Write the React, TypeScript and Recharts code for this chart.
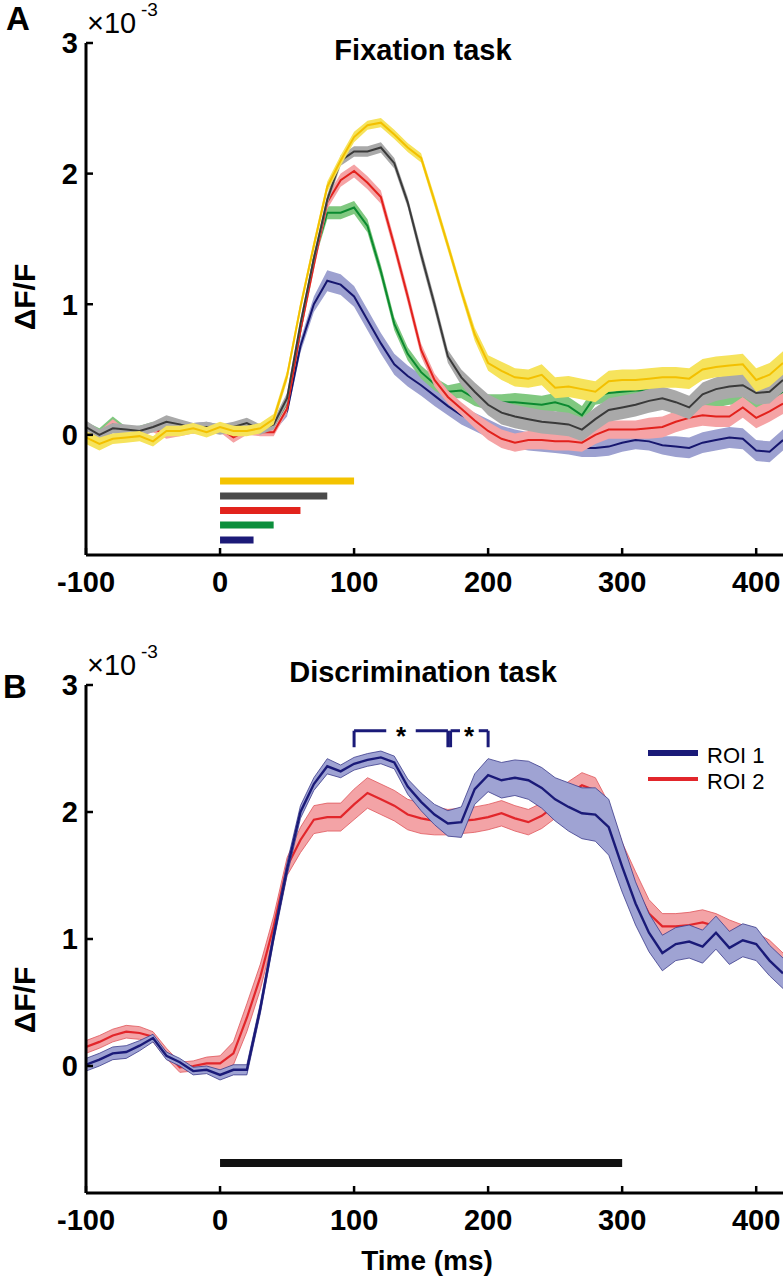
import React from 'react'
import { ComposedChart, Area, Line, XAxis, YAxis, ReferenceLine } from 'recharts'

const FONT = '"Liberation Sans", Arial, Helvetica, sans-serif'

// time axis (ms), shared by both panels
const times = [
  -100, -90, -80, -70, -60, -50, -40, -30, -20, -10, 0, 10, 20, 30,
  40, 50, 60, 70, 80, 90, 100, 110, 120, 130, 140, 150,
  160, 170, 180, 190, 200, 210, 220, 230, 240, 250, 260, 270,
  280, 290, 300, 310, 320, 330, 340, 350, 360, 370, 380, 390, 400, 410, 420
]
const xTicks = [-100, 0, 100, 200, 300, 400]
const yTicks = [0, 1, 2, 3]

// ---- Panel A: fixation task (dF/F x 1e-3), mean and sem per stimulus duration
const fixYellow = [
  -0.02, -0.07, -0.03, -0.02, -0.01, -0.05, 0.03, 0.03, 0.05, 0.02, 0.06, 0.03, 0.03, 0.05,
  0.12, 0.45, 0.98, 1.45, 1.9, 2.1, 2.28, 2.37, 2.39, 2.3, 2.2, 2.12,
  1.79, 1.45, 1.1, 0.77, 0.55, 0.49, 0.44, 0.43, 0.46, 0.36, 0.37, 0.35,
  0.33, 0.41, 0.42, 0.42, 0.43, 0.44, 0.44, 0.43, 0.5, 0.52, 0.53, 0.54, 0.42, 0.46, 0.55
]
const fixYellowSem = [
  0.05, 0.05, 0.04, 0.04, 0.04, 0.04, 0.04, 0.04, 0.04, 0.04, 0.04, 0.04, 0.04, 0.04,
  0.04, 0.04, 0.04, 0.04, 0.04, 0.04, 0.04, 0.035, 0.035, 0.035, 0.035, 0.035,
  0.04, 0.04, 0.04, 0.05, 0.06, 0.07, 0.07, 0.07, 0.08, 0.08, 0.08, 0.08,
  0.08, 0.08, 0.08, 0.08, 0.08, 0.08, 0.08, 0.08, 0.08, 0.08, 0.08, 0.08, 0.09, 0.09, 0.09
]
const fixGray = [
  0.06, 0.0, 0.05, 0.04, 0.03, 0.06, 0.1, 0.08, 0.05, 0.06, 0.04, 0.06, 0.09, 0.04,
  0.08, 0.28, 0.85, 1.35, 1.8, 2.1, 2.17, 2.17, 2.2, 2.08, 1.78, 1.38,
  1.0, 0.6, 0.44, 0.33, 0.23, 0.17, 0.14, 0.12, 0.1, 0.09, 0.08, 0.04,
  0.12, 0.19, 0.21, 0.23, 0.26, 0.28, 0.25, 0.21, 0.31, 0.35, 0.37, 0.38, 0.32, 0.33, 0.42
]
const fixGraySem = [
  0.05, 0.04, 0.04, 0.04, 0.04, 0.04, 0.05, 0.04, 0.04, 0.04, 0.04, 0.04, 0.04, 0.04,
  0.04, 0.04, 0.04, 0.04, 0.04, 0.04, 0.04, 0.04, 0.04, 0.04, 0.04, 0.05,
  0.05, 0.05, 0.06, 0.07, 0.08, 0.09, 0.09, 0.09, 0.09, 0.09, 0.09, 0.09,
  0.09, 0.09, 0.09, 0.09, 0.09, 0.09, 0.09, 0.09, 0.09, 0.09, 0.09, 0.09, 0.09, 0.09, 0.09
]
const fixRed = [
  0.05, -0.01, 0.08, 0.0, 0.02, 0.05, 0.0, 0.02, 0.04, 0.05, 0.05, -0.02, 0.03, 0.02,
  0.02, 0.2, 0.8, 1.3, 1.78, 1.95, 2.02, 1.93, 1.82, 1.45, 1.06, 0.65,
  0.42, 0.29, 0.2, 0.11, 0.03, -0.03, -0.06, -0.04, -0.04, -0.05, -0.05, -0.06,
  0.0, 0.04, 0.04, 0.04, 0.05, 0.06, 0.1, 0.13, 0.15, 0.14, 0.14, 0.21, 0.13, 0.18, 0.24
]
const fixRedSem = [
  0.04, 0.04, 0.04, 0.04, 0.03, 0.03, 0.03, 0.03, 0.03, 0.03, 0.03, 0.04, 0.03, 0.03,
  0.03, 0.03, 0.04, 0.04, 0.05, 0.05, 0.05, 0.05, 0.05, 0.05, 0.05, 0.05,
  0.05, 0.05, 0.05, 0.06, 0.07, 0.07, 0.07, 0.07, 0.07, 0.07, 0.07, 0.07,
  0.07, 0.07, 0.07, 0.07, 0.08, 0.08, 0.08, 0.08, 0.08, 0.08, 0.08, 0.08, 0.08, 0.08, 0.08
]
const fixGreen = [
  0.06, 0.02, 0.1, 0.03, 0.04, 0.07, 0.05, 0.06, 0.05, 0.06, 0.04, 0.05, 0.07, 0.03,
  0.06, 0.22, 0.8, 1.35, 1.7, 1.7, 1.74, 1.6, 1.25, 0.85, 0.62, 0.48,
  0.39, 0.33, 0.34, 0.28, 0.25, 0.25, 0.25, 0.24, 0.23, 0.25, 0.22, 0.15,
  0.3, 0.32, 0.33, 0.34, 0.34, 0.28, 0.22, 0.2, 0.25, 0.28, 0.3, 0.3, 0.25, 0.27, 0.33
]
const fixGreenSem = [
  0.04, 0.03, 0.04, 0.03, 0.03, 0.03, 0.03, 0.03, 0.03, 0.03, 0.03, 0.03, 0.03, 0.03,
  0.03, 0.03, 0.04, 0.04, 0.05, 0.05, 0.05, 0.05, 0.05, 0.05, 0.05, 0.05,
  0.05, 0.05, 0.06, 0.06, 0.06, 0.06, 0.07, 0.07, 0.07, 0.07, 0.07, 0.07,
  0.07, 0.07, 0.07, 0.07, 0.07, 0.07, 0.07, 0.07, 0.07, 0.07, 0.07, 0.07, 0.07, 0.07, 0.07
]
const fixBlue = [
  0.05, 0.01, 0.07, 0.03, 0.04, 0.05, 0.04, 0.05, 0.06, 0.07, 0.05, 0.05, 0.06, 0.03,
  0.05, 0.18, 0.68, 1.0, 1.18, 1.15, 1.06, 0.88, 0.7, 0.54, 0.45, 0.38,
  0.3, 0.22, 0.15, 0.1, 0.05, 0.0, -0.03, -0.05, -0.06, -0.07, -0.08, -0.1,
  -0.1, -0.09, -0.06, -0.04, -0.05, -0.08, -0.09, -0.1, -0.06, -0.04, -0.02, -0.03, -0.12, -0.13, -0.04
]
const fixBlueSem = [
  0.04, 0.03, 0.03, 0.03, 0.03, 0.03, 0.03, 0.03, 0.03, 0.03, 0.03, 0.03, 0.03, 0.03,
  0.03, 0.04, 0.05, 0.06, 0.08, 0.08, 0.08, 0.08, 0.08, 0.08, 0.08, 0.08,
  0.08, 0.07, 0.07, 0.07, 0.07, 0.07, 0.07, 0.07, 0.07, 0.07, 0.07, 0.07,
  0.07, 0.07, 0.07, 0.07, 0.07, 0.07, 0.08, 0.08, 0.08, 0.08, 0.08, 0.08, 0.08, 0.08, 0.08
]
// stimulus durations (ms) drawn as bars under the traces
const stimDurations = [100, 80, 60, 40, 25]
const stimLevels = [-0.354, -0.469, -0.58, -0.69, -0.805]
const stimColors = ['#f4c300', '#4a4a4a', '#e2231c', '#0c8f3c', '#1c1a78']

// ---- Panel B: discrimination task
const disRoi1 = [
  0.01, 0.05, 0.1, 0.11, 0.16, 0.22, 0.08, 0.03, -0.04, -0.03, -0.07, -0.03, -0.03, 0.45,
  1.02, 1.55, 2.0, 2.22, 2.36, 2.32, 2.38, 2.41, 2.43, 2.39, 2.2, 2.08,
  1.98, 1.91, 1.92, 2.18, 2.29, 2.25, 2.27, 2.25, 2.19, 2.1, 2.04, 1.99,
  1.98, 1.88, 1.57, 1.28, 1.05, 0.89, 0.96, 0.98, 0.94, 1.05, 0.93, 0.99, 0.96, 0.83, 0.73
]
const disRoi1Sem = [
  0.05, 0.05, 0.05, 0.05, 0.04, 0.03, 0.03, 0.03, 0.03, 0.03, 0.04, 0.04, 0.04, 0.04,
  0.04, 0.05, 0.05, 0.05, 0.06, 0.05, 0.05, 0.05, 0.05, 0.05, 0.06, 0.07,
  0.08, 0.1, 0.12, 0.12, 0.13, 0.14, 0.14, 0.15, 0.16, 0.17, 0.19, 0.2,
  0.21, 0.22, 0.2, 0.17, 0.15, 0.14, 0.13, 0.13, 0.13, 0.13, 0.13, 0.13, 0.13, 0.12, 0.12
]
const disRoi2 = [
  0.15, 0.19, 0.24, 0.27, 0.26, 0.23, 0.1, -0.01, 0.0, 0.02, 0.02, 0.1, 0.38, 0.7,
  1.1, 1.57, 1.78, 1.94, 1.96, 1.96, 2.06, 2.15, 2.1, 2.05, 1.98, 1.95,
  1.93, 1.92, 1.93, 1.94, 1.96, 1.99, 1.95, 1.92, 1.97, 2.05, 2.14, 2.21,
  2.17, 1.95, 1.62, 1.4, 1.2, 1.1, 1.1, 1.11, 1.13, 1.1, 1.05, 1.01, 0.95, 0.89, 0.78
]
const disRoi2Sem = [
  0.05, 0.05, 0.05, 0.05, 0.05, 0.04, 0.04, 0.04, 0.04, 0.05, 0.06, 0.09, 0.11, 0.1,
  0.08, 0.07, 0.1, 0.11, 0.11, 0.11, 0.12, 0.12, 0.12, 0.12, 0.12, 0.12,
  0.11, 0.1, 0.1, 0.1, 0.1, 0.1, 0.1, 0.1, 0.1, 0.1, 0.1, 0.1,
  0.1, 0.12, 0.14, 0.13, 0.11, 0.1, 0.1, 0.1, 0.1, 0.1, 0.1, 0.1, 0.1, 0.1, 0.11
]
// significance brackets: [start, end] ms
const sigBrackets = [[100, 170], [172, 200]]
const stimulusWindow = [0, 300]

interface Trace {
  key: string
  mean: number[]
  sem: number[]
  line: string
  fill: string
  edge?: string
  width: number
}

const fixationTraces: Trace[] = [
  { key: 'blue', mean: fixBlue, sem: fixBlueSem, line: '#16166e', fill: '#9da1d0', width: 2 },
  { key: 'green', mean: fixGreen, sem: fixGreenSem, line: '#0b8a30', fill: '#80c880', width: 2 },
  { key: 'red', mean: fixRed, sem: fixRedSem, line: '#e2211c', fill: '#f5a3a5', width: 2 },
  { key: 'gray', mean: fixGray, sem: fixGraySem, line: '#3a3a3a', fill: '#a9a9a9', width: 2 },
  { key: 'yellow', mean: fixYellow, sem: fixYellowSem, line: '#f3c000', fill: '#f6e35c', width: 2 }
]

const discriminationTraces: Trace[] = [
  { key: 'roi2', mean: disRoi2, sem: disRoi2Sem, line: '#e2262b', fill: '#f3a3a6', edge: '#e0555a', width: 2.2 },
  { key: 'roi1', mean: disRoi1, sem: disRoi1Sem, line: '#1a1a78', fill: '#9fa3d3', edge: '#3b3b8c', width: 2.4 }
]

function buildRows(traces: Trace[]) {
  return times.map((t, i) => {
    const row: Record<string, any> = { t }
    traces.forEach(tr => {
      row[tr.key] = tr.mean[i]
      row[tr.key + 'Band'] = [tr.mean[i] - tr.sem[i], tr.mean[i] + tr.sem[i]]
    })
    return row
  })
}

const tickStyle = { fontSize: 29, fontWeight: 'bold', fill: '#000', fontFamily: FONT }
const axisStroke = { stroke: '#000', strokeWidth: 3 }

// band then mean line, stacked so later traces cover earlier ones
function renderTraces(traces: Trace[]) {
  return traces.map((tr, i) => (
    <React.Fragment key={tr.key}>
      <Area
        type="linear"
        dataKey={tr.key + 'Band'}
        fill={tr.fill}
        fillOpacity={1}
        stroke={tr.edge || 'none'}
        strokeWidth={0.8}
        dot={false}
        activeDot={false}
        isAnimationActive={false}
        zIndex={100 + i * 2}
      />
      <Line
        type="linear"
        dataKey={tr.key}
        stroke={tr.line}
        strokeWidth={tr.width}
        dot={false}
        activeDot={false}
        isAnimationActive={false}
        zIndex={101 + i * 2}
      />
    </React.Fragment>
  ))
}

export default function App() {
  const fixRows = buildRows(fixationTraces)
  const disRows = buildRows(discriminationTraces)

  const xAxis = (
    <XAxis
      type="number"
      dataKey="t"
      domain={[-100, 420]}
      ticks={xTicks}
      interval={0}
      allowDataOverflow
      height={40}
      tickSize={-7}
      tickMargin={23}
      axisLine={axisStroke}
      tickLine={{ stroke: '#000', strokeWidth: 2.5 }}
      tick={tickStyle}
    />
  )

  return (
    <div style={{ position: 'absolute', left: 0, top: 0, width: 783, height: 1280, background: '#fff', fontFamily: FONT }}>
      {/* Panel A */}
      <div style={{ position: 'absolute', left: 0, top: 0 }}>
        <ComposedChart width={783} height={620} data={fixRows} margin={{ top: 43, right: 0, bottom: 25, left: 26 }}>
          {xAxis}
          <YAxis
            type="number"
            domain={[-0.92, 3]}
            ticks={yTicks}
            interval={0}
            allowDataOverflow
            width={60}
            tickSize={-7}
            tickMargin={15}
            axisLine={axisStroke}
            tickLine={{ stroke: '#000', strokeWidth: 2.5 }}
            tick={tickStyle}
          />
          {renderTraces(fixationTraces)}
          {stimDurations.map((d, i) => (
            <ReferenceLine
              key={'stim' + i}
              segment={[{ x: 0, y: stimLevels[i] }, { x: d, y: stimLevels[i] }]}
              stroke={stimColors[i]}
              strokeWidth={7}
            />
          ))}
        </ComposedChart>
      </div>

      {/* Panel B */}
      <div style={{ position: 'absolute', left: 0, top: 620 }}>
        <ComposedChart width={783} height={660} data={disRows} margin={{ top: 65, right: 0, bottom: 47, left: 26 }}>
          {xAxis}
          <YAxis
            type="number"
            domain={[-1, 3]}
            ticks={yTicks}
            interval={0}
            allowDataOverflow
            width={60}
            tickSize={-7}
            tickMargin={15}
            axisLine={axisStroke}
            tickLine={{ stroke: '#000', strokeWidth: 2.5 }}
            tick={tickStyle}
          />
          {renderTraces(discriminationTraces)}
          <ReferenceLine
            segment={[{ x: stimulusWindow[0], y: -0.764 }, { x: stimulusWindow[1], y: -0.764 }]}
            stroke="#111"
            strokeWidth={8}
          />
          {sigBrackets.map(([a, b], i) => {
            const mid = (a + b) / 2
            const gap = i === 0 ? 11 : 7
            return (
              <React.Fragment key={'sig' + i}>
                <ReferenceLine segment={[{ x: a, y: 2.51 }, { x: a, y: 2.64 }]} stroke="#1a1a78" strokeWidth={3} />
                <ReferenceLine segment={[{ x: a, y: 2.64 }, { x: mid - gap, y: 2.64 }]} stroke="#1a1a78" strokeWidth={3} />
                <ReferenceLine segment={[{ x: mid + gap, y: 2.64 }, { x: b, y: 2.64 }]} stroke="#1a1a78" strokeWidth={3} />
                <ReferenceLine segment={[{ x: b, y: 2.64 }, { x: b, y: 2.51 }]} stroke="#1a1a78" strokeWidth={3} />
              </React.Fragment>
            )
          })}
        </ComposedChart>
      </div>

      {/* text annotations */}
      <svg width={783} height={1280} style={{ position: 'absolute', left: 0, top: 0, pointerEvents: 'none' }} fontFamily={FONT}>
        <text x={6} y={30} fontSize={33} fontWeight="bold">A</text>
        <text x={87} y={33} fontSize={29}>×10</text>
        <text x={141} y={16} fontSize={19}>-3</text>
        <text x={423} y={60} fontSize={29} fontWeight="bold" textAnchor="middle">Fixation task</text>
        <text x={35} y={297} fontSize={30} fontWeight="bold" textAnchor="middle" transform="rotate(-90 35 297)">ΔF/F</text>

        <text x={3} y={698} fontSize={33} fontWeight="bold">B</text>
        <text x={87} y={675} fontSize={29}>×10</text>
        <text x={141} y={658} fontSize={19}>-3</text>
        <text x={423} y={682} fontSize={29} fontWeight="bold" textAnchor="middle">Discrimination task</text>
        <text x={35} y={1000} fontSize={30} fontWeight="bold" textAnchor="middle" transform="rotate(-90 35 1000)">ΔF/F</text>
        <text x={401} y={745} fontSize={26} fontWeight="bold" textAnchor="middle">*</text>
        <text x={469} y={745} fontSize={26} fontWeight="bold" textAnchor="middle">*</text>

        <line x1={648} y1={753} x2={698} y2={753} stroke="#1a1a78" strokeWidth={6} />
        <line x1={648} y1={779} x2={698} y2={779} stroke="#e2262b" strokeWidth={4} />
        <text x={707} y={763} fontSize={22}>ROI 1</text>
        <text x={707} y={789} fontSize={22}>ROI 2</text>

        <text x={427} y={1270} fontSize={28} fontWeight="bold" textAnchor="middle">Time (ms)</text>
      </svg>
    </div>
  )
}
